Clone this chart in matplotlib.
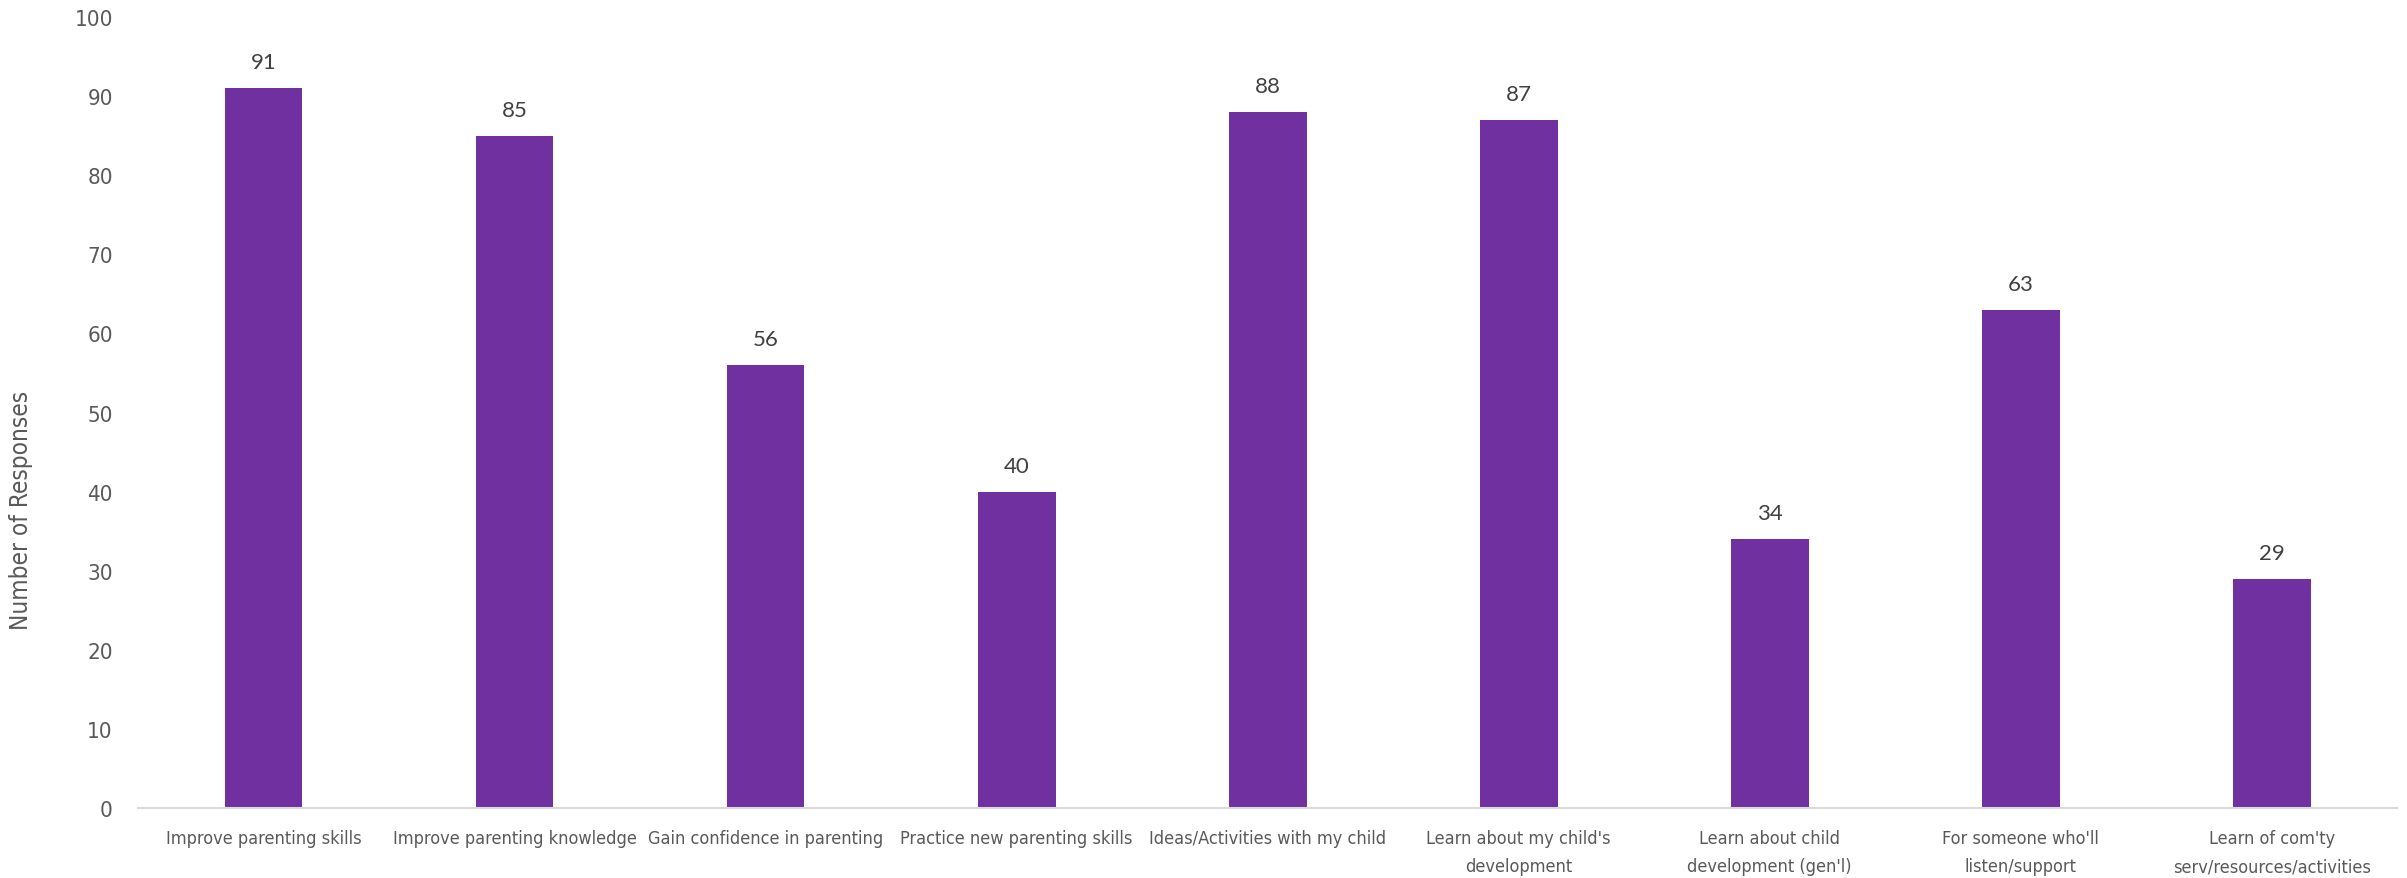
import matplotlib.pyplot as plt

categories = [
    "Improve parenting skills",
    "Improve parenting knowledge",
    "Gain confidence in parenting",
    "Practice new parenting skills",
    "Ideas/Activities with my child",
    "Learn about my child's\ndevelopment",
    "Learn about child\ndevelopment (gen'l)",
    "For someone who'll\nlisten/support",
    "Learn of com'ty\nserv/resources/activities",
]
responses = [91, 85, 56, 40, 88, 87, 34, 63, 29]
y_ticks = list(range(0, 101, 10))

purple = "#7030A0"
gray = "#595959"

fig = plt.figure(figsize=(24.07, 8.79), dpi=100)
ax = fig.add_axes([0.0573, 0.0796, 0.9387, 0.8999])

x = range(len(categories))
bars = ax.bar(x, responses, width=0.31, color=purple)

# value labels above the bars
for b, v in zip(bars, responses):
    ax.text(b.get_x() + b.get_width() / 2, v + 2, str(v), ha="center", va="bottom",
            fontsize=16, color="#404040", family="Lato")

ax.set_xlim(-0.5, len(categories) - 0.5)
ax.set_ylim(0, 100)
ax.set_yticks(y_ticks)
ax.set_yticklabels([str(t) for t in y_ticks], fontsize=16, color=gray,
                   family="DejaVu Sans", fontstretch="condensed")
ax.set_xticks(list(x))
ax.set_xticklabels(categories, fontsize=13, color=gray, family="DejaVu Sans",
                   fontstretch="condensed", linespacing=1.75)
ax.tick_params(axis="both", length=0, colors=gray)
ax.tick_params(axis="x", pad=15)
ax.tick_params(axis="y", pad=18)

for s in ["top", "right", "left"]:
    ax.spines[s].set_visible(False)
ax.spines["bottom"].set_color("#d9d9d9")
ax.spines["bottom"].set_linewidth(1.5)

ax.set_ylabel("Number of Responses", fontsize=17.5, color=gray, family="DejaVu Sans",
              fontstretch="condensed")
ax.yaxis.set_label_coords(-0.0465, 0.378)

fig.savefig("out.png", dpi=100)
